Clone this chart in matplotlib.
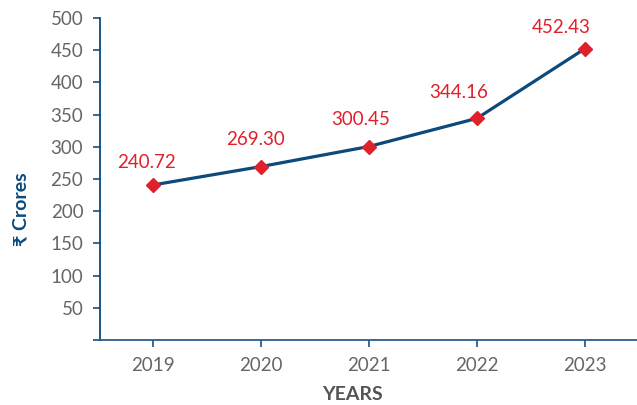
import matplotlib.pyplot as plt

plt.rcParams['font.family'] = ['Lato', 'DejaVu Sans']

years = ['2019', '2020', '2021', '2022', '2023']
crores = [240.72, 269.30, 300.45, 344.16, 452.43]
y_ticks = [0, 50, 100, 150, 200, 250, 300, 350, 400, 450, 500]

navy = '#0b4a7b'
red = '#e0202a'
grey = '#666666'

# label shifts in pixels (x, y) relative to each point
label_dx = [-6, -5, -8, -18, -24]
label_dy = [22, 27, 27, 26, 21]

fig = plt.figure(figsize=(6.37, 4.05), dpi=100)
ax = fig.add_axes([100 / 637, 65 / 405, 540 / 637, 322 / 405])

x = list(range(len(years)))
ax.plot(x, crores, color=navy, lw=2.3, zorder=2)
ax.plot(x, crores, ls='none', marker='D', ms=7.5, color=red, zorder=3)

for i, v in enumerate(crores):
    ax.annotate(f'{v:.2f}', (i, v), xytext=(label_dx[i] * 0.72, label_dy[i] * 0.72),
                textcoords='offset points', ha='center', va='center',
                color=red, fontsize=13.5)

ax.set_xlim(-0.49, 4.51)
ax.set_ylim(0, 500)
ax.set_xticks(x)
ax.set_xticklabels(years)
ax.set_yticks(y_ticks)
ax.set_yticklabels([''] + [str(t) for t in y_ticks[1:]])

for side in ['top', 'right']:
    ax.spines[side].set_visible(False)
for side in ['left', 'bottom']:
    ax.spines[side].set_color('#2a5d8a')
    ax.spines[side].set_linewidth(1.3)
ax.spines['left'].set_color(navy)

ax.tick_params(axis='both', colors='#2a5d8a', length=5, width=1.3,
               labelcolor=grey, labelsize=13.5, pad=7)
ax.set_clip_on(False)

fig.text(353 / 637, 1 - 395 / 405, 'YEARS', ha='center', va='center',
         fontsize=14, fontweight='bold', color='#555555')
fig.text(21 / 637, 1 - 209 / 405, '₹ Crores', ha='center', va='center',
         rotation=90, fontsize=14, fontweight='bold', color=navy)

fig.savefig('out.png', dpi=100)
